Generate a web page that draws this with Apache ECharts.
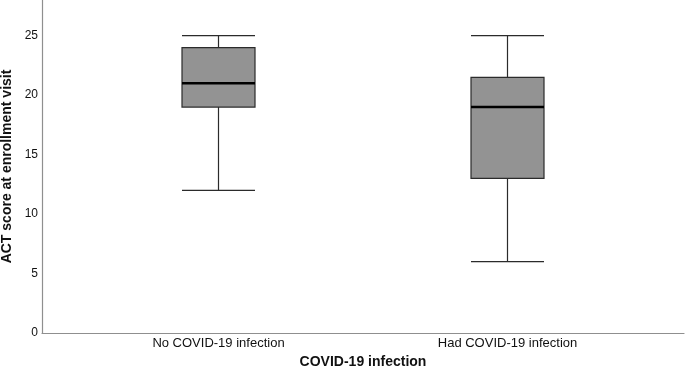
<!DOCTYPE html>
<html>
<head>
<meta charset="utf-8">
<script src="https://cdn.jsdelivr.net/npm/echarts@6/dist/echarts.min.js"></script>
<style>
  html, body { margin: 0; padding: 0; background: #fff; }
  #chart { width: 685px; height: 368px; }
</style>
</head>
<body>
<div id="chart"></div>
<script>
// groups on the x axis
const groups = ['No COVID-19 infection', 'Had COVID-19 infection']
// [min, Q1, median, Q3, max] per group
const noInfection = [12, 19, 21, 24, 25]
const hadInfection = [6, 13, 19, 21.5, 25]
const medians = [noInfection[2], hadInfection[2]]

const yMin = 0
const yMax = 28
const yStep = 5

const font = 'Liberation Sans, Arial, Helvetica, sans-serif'
const axisGray = '#8f8f8f'
const boxPx = 73

const chart = echarts.init(document.getElementById('chart'))

const option = {
  animation: false,
  backgroundColor: '#fff',
  textStyle: { fontFamily: font },
  grid: [
    // outer frame: carries the visible axis lines and labels
    { left: 42, right: 1, top: 0, bottom: 35, outerBoundsMode: 'none', containLabel: false },
    // inner band where the two boxes sit
    { left: 74, right: 33, top: 0, bottom: 35, outerBoundsMode: 'none', containLabel: false }
  ],
  xAxis: [
    {
      gridIndex: 0,
      type: 'value',
      min: 0,
      max: 1,
      name: 'COVID-19 infection',
      nameLocation: 'middle',
      nameGap: 22,
      nameTextStyle: { fontSize: 14, fontWeight: 'bold', color: '#111', fontFamily: font },
      axisLine: { show: true, lineStyle: { color: axisGray, width: 1.2 } },
      axisTick: { show: false },
      axisLabel: { show: false },
      splitLine: { show: false }
    },
    {
      gridIndex: 1,
      type: 'category',
      data: groups,
      axisLine: { show: false },
      axisTick: { show: false },
      axisLabel: { color: '#111', fontSize: 13, margin: 4, fontFamily: font },
      splitLine: { show: false }
    }
  ],
  yAxis: [
    {
      gridIndex: 0,
      type: 'value',
      min: yMin,
      max: yMax,
      interval: yStep,
      name: 'ACT score at enrollment visit',
      nameLocation: 'middle',
      nameGap: 26,
      nameTextStyle: { fontSize: 14, fontWeight: 'bold', color: '#111', fontFamily: font },
      axisLine: { show: true, lineStyle: { color: axisGray, width: 1.2 } },
      axisTick: { show: false },
      axisLabel: {
        color: '#111',
        fontSize: 12,
        margin: 4,
        fontFamily: font,
        formatter: v => (v % yStep === 0 ? String(v) : '')
      },
      splitLine: { show: false }
    },
    {
      gridIndex: 1,
      type: 'value',
      min: yMin,
      max: yMax,
      show: false
    }
  ],
  series: [
    {
      type: 'boxplot',
      xAxisIndex: 1,
      yAxisIndex: 1,
      boxWidth: [boxPx, boxPx],
      data: [noInfection, hadInfection],
      itemStyle: { color: '#939393', borderColor: '#2b2b2b', borderWidth: 1.2 }
    },
    {
      // thicker median bar drawn over each box
      type: 'custom',
      xAxisIndex: 1,
      yAxisIndex: 1,
      data: medians.map((m, i) => [i, m]),
      z: 5,
      renderItem: (params, api) => {
        const p = api.coord([api.value(0), api.value(1)])
        return {
          type: 'line',
          shape: { x1: p[0] - boxPx / 2, y1: p[1], x2: p[0] + boxPx / 2, y2: p[1] },
          style: { stroke: '#000', lineWidth: 2.4 }
        }
      }
    }
  ]
}

chart.setOption(option)
</script>
</body>
</html>
